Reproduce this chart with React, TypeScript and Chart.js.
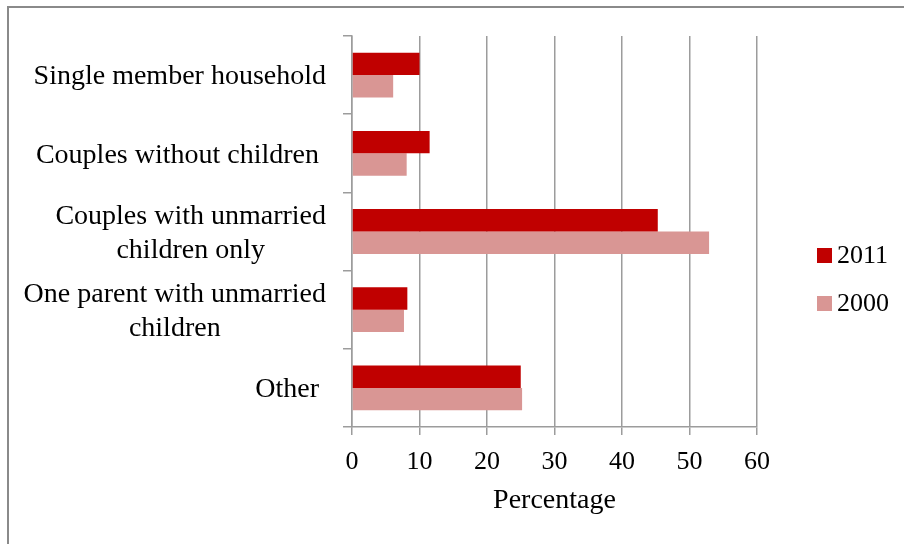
import React, { useEffect, useRef } from "react";
import { Chart, registerables } from "chart.js";

Chart.register(...registerables);

const categories: (string | string[])[] = [
  "Single member household",
  "Couples without children ",
  ["Couples with unmarried", "children only"],
  ["One parent with unmarried", "children"],
  "Other ",
];
const seriesNames = ["2011", "2000"];
const values2011 = [10.0, 11.5, 45.3, 8.2, 25.0];
const values2000 = [6.1, 8.1, 52.9, 7.7, 25.2];
const xTicks = [0, 10, 20, 30, 40, 50, 60];
const axisTitle = "Percentage";

const FONT = "'Liberation Serif', 'Times New Roman', serif";
const GRID = "#9c9c9c";
const Y_TICK_LEN = 9;
const Y_TICK_PAD = 17;
const Y_FONT_SIZE = 28;

const legendPlugin = {
  id: "sideLegend",
  afterDraw(chart: any) {
    const ctx = chart.ctx;
    ctx.save();
    chart.data.datasets.forEach((ds: any, i: number) => {
      const x = 817;
      const y = 248 + i * 48;
      ctx.fillStyle = ds.backgroundColor;
      ctx.fillRect(x, y, 15, 15);
      ctx.fillStyle = "#000";
      ctx.font = `26px ${FONT}`;
      ctx.textBaseline = "middle";
      ctx.textAlign = "left";
      ctx.fillText(ds.label, x + 20, y + 8);
    });
    ctx.restore();
  },
};

// Category labels: right-aligned block, each line centred within its block
const centredLabelPlugin = {
  id: "centredLabels",
  afterDraw(chart: any) {
    const ctx = chart.ctx;
    const ys = chart.scales.y;
    const labels = chart.data.labels as (string | string[])[];
    ctx.save();
    ctx.font = `${Y_FONT_SIZE}px ${FONT}`;
    ctx.fillStyle = "#000";
    ctx.textAlign = "center";
    ctx.textBaseline = "middle";
    const lh = Y_FONT_SIZE * 1.2;
    labels.forEach((lbl, i) => {
      const lines = Array.isArray(lbl) ? lbl : [lbl];
      const widest = Math.max(...lines.map((l) => ctx.measureText(l).width));
      const cx = ys.right - Y_TICK_LEN - Y_TICK_PAD - widest / 2;
      const cy = ys.getPixelForTick(i) + 2;
      lines.forEach((l, j) => {
        ctx.fillText(l, cx, cy + (j - (lines.length - 1) / 2) * lh);
      });
    });
    ctx.restore();
  },
};

export default function App() {
  const ref = useRef<HTMLCanvasElement | null>(null);

  useEffect(() => {
    if (!ref.current) return;
    const chart = new Chart(ref.current, {
      type: "bar",
      data: {
        labels: categories,
        datasets: [
          {
            label: seriesNames[0],
            data: values2011,
            backgroundColor: "#C00000",
            borderWidth: 0,
            barPercentage: 1,
            categoryPercentage: 0.573,
          },
          {
            label: seriesNames[1],
            data: values2000,
            backgroundColor: "#D99694",
            borderWidth: 0,
            barPercentage: 1,
            categoryPercentage: 0.573,
          },
        ],
      },
      options: {
        indexAxis: "y",
        animation: false,
        responsive: false,
        layout: { padding: { left: 0, top: 36, right: 147, bottom: 23 } },
        plugins: {
          legend: { display: false },
          tooltip: { enabled: false },
        },
        scales: {
          x: {
            type: "linear",
            position: "bottom",
            min: 0,
            max: 60,
            afterBuildTicks: (s: any) => {
              s.ticks = xTicks.map((v) => ({ value: v }));
            },
            ticks: { font: { family: FONT, size: 26 }, color: "#000", padding: 12 },
            grid: { color: GRID, lineWidth: 1.5, tickLength: 8, drawTicks: true },
            border: { color: GRID, width: 1.5 },
            title: {
              display: true,
              text: axisTitle,
              font: { family: FONT, size: 28 },
              color: "#000",
              padding: { top: 4, bottom: 4 },
            },
            afterFit: (s: any) => {
              s.height = 94;
            },
          },
          y: {
            type: "category",
            position: "left",
            offset: true,
            ticks: {
              font: { family: FONT, size: Y_FONT_SIZE },
              color: "rgba(0,0,0,0)",
              padding: Y_TICK_PAD,
            },
            grid: {
              offset: true,
              drawOnChartArea: false,
              drawTicks: true,
              tickLength: Y_TICK_LEN,
              color: GRID,
              lineWidth: 1.5,
            },
            border: { color: GRID, width: 1.5 },
            afterFit: (s: any) => {
              s.width = 352;
            },
          },
        },
      } as any,
      plugins: [legendPlugin, centredLabelPlugin],
    });
    return () => chart.destroy();
  }, []);

  return (
    <div
      style={{
        position: "absolute",
        left: 0,
        top: 0,
        width: 904,
        height: 544,
        background: "#fff",
        overflow: "hidden",
      }}
    >
      <div
        style={{
          position: "absolute",
          left: 7,
          top: 6,
          width: 904,
          height: 544,
          borderLeft: "2px solid #8a8a8a",
          borderTop: "2px solid #8a8a8a",
        }}
      />
      <canvas
        ref={ref}
        width={904}
        height={544}
        style={{ position: "absolute", left: 0, top: 0, width: 904, height: 544 }}
      />
    </div>
  );
}
